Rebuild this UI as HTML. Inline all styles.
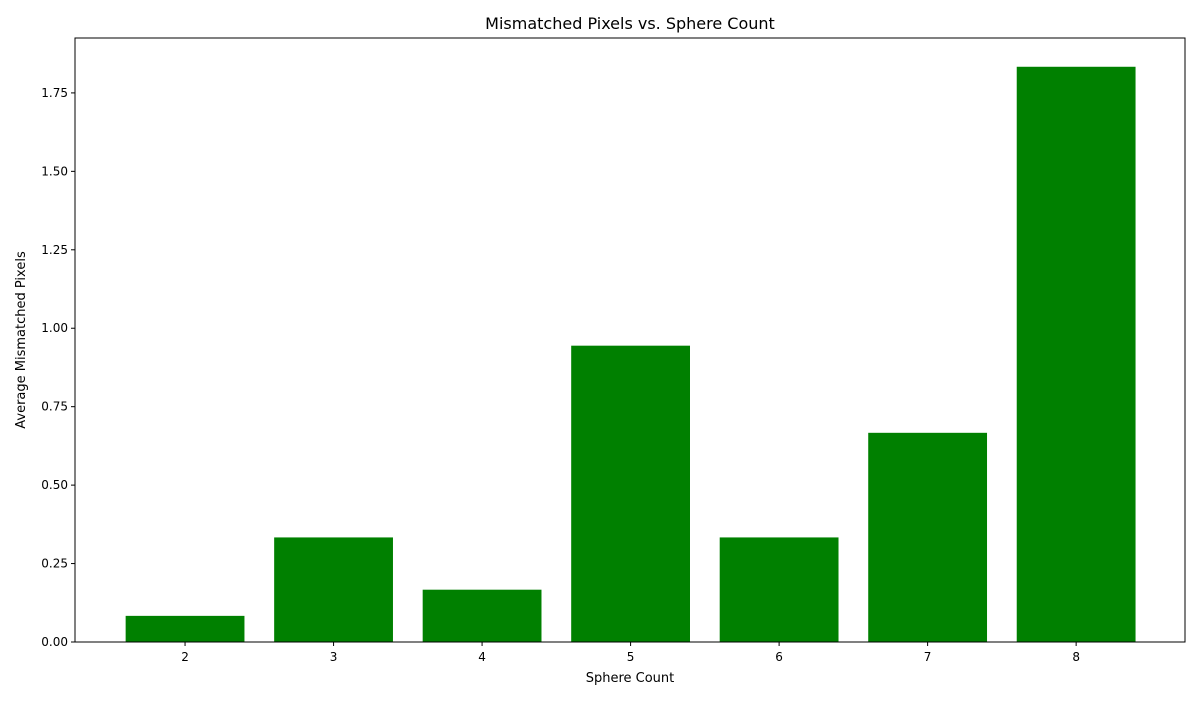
<!DOCTYPE html>
<html><head><meta charset="utf-8"><style>
body{margin:0;background:#fff;font-family:"Liberation Sans","DejaVu Sans",sans-serif}
</style></head><body>
<svg id="chart" width="1200" height="700" xmlns="http://www.w3.org/2000/svg" font-family="DejaVu Sans, Liberation Sans, sans-serif">
<rect width="1200" height="700" fill="#fff"/>
<g id="bars"></g><g id="axes"></g>
<text x="630" y="29" text-anchor="middle" font-size="16">Mismatched Pixels vs. Sphere Count</text>
<text x="630" y="682" text-anchor="middle" font-size="13">Sphere Count</text>
<text transform="translate(25,340) rotate(-90)" text-anchor="middle" font-size="13">Average Mismatched Pixels</text>
</svg>
<script>
const categories=[2,3,4,5,6,7,8];
const values=[0.0833,0.3333,0.1667,0.9444,0.3333,0.6667,1.8333];
const yTicks=[0,0.25,0.5,0.75,1.0,1.25,1.5,1.75];
const yTickLabels=["0.00","0.25","0.50","0.75","1.00","1.25","1.50","1.75"];
const L=75,R=1185,T=38,B=642;
const xMin=1.259,xMax=8.733,yMax=1.925;
const sx=v=>L+(v-xMin)/(xMax-xMin)*(R-L);
const sy=v=>B-v/yMax*(B-T);
const NS="http://www.w3.org/2000/svg";
const bars=document.getElementById('bars'),axes=document.getElementById('axes');
function mk(tag,attrs,parent){const e=document.createElementNS(NS,tag);for(const k in attrs)e.setAttribute(k,attrs[k]);parent.appendChild(e);return e;}
const bw=sx(0.8)-sx(0);
categories.forEach((c,i)=>{
  const r=mk('rect',{x:sx(c)-bw/2,y:sy(values[i]),width:bw,height:B-sy(values[i]),fill:'#008000'},bars);
  
  
  mk('line',{x1:sx(c),x2:sx(c),y1:B,y2:B+4,stroke:'#000'},axes);
  const t=mk('text',{x:sx(c),y:B+19,'text-anchor':'middle','font-size':12},axes);t.textContent=c;
  
  
});
yTicks.forEach((v,i)=>{
  mk('line',{x1:L-4,x2:L,y1:sy(v),y2:sy(v),stroke:'#000'},axes);
  const t=mk('text',{x:L-7,y:sy(v)+4,'text-anchor':'end','font-size':12},axes);t.textContent=yTickLabels[i];
  
  
});
const f=mk('rect',{x:L,y:T,width:R-L,height:B-T,fill:'none',stroke:'#000','stroke-width':1},axes);


</script>
</body></html>
